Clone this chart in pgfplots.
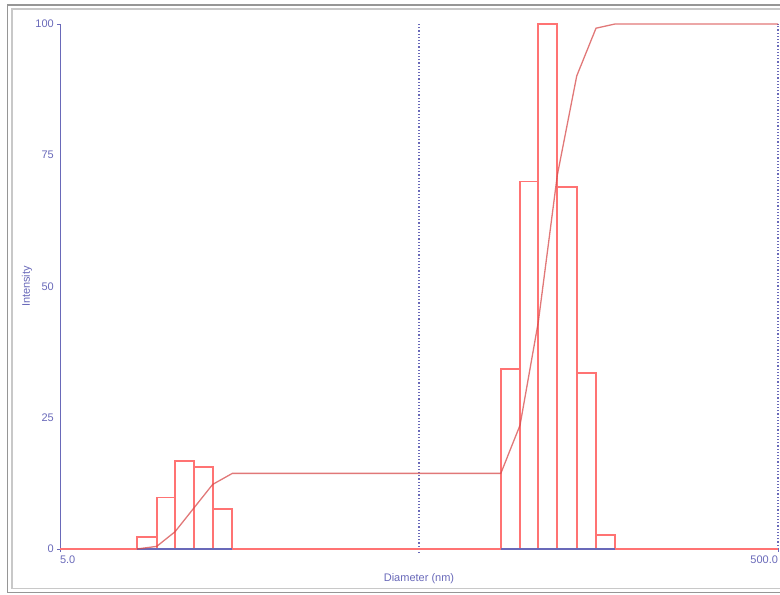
\documentclass[border=0pt]{standalone}
\usepackage{fontspec}
\setmainfont{Liberation Sans}
\usepackage{pgfplots}
\pgfplotsset{compat=1.18}
\definecolor{axisblue}{RGB}{105,105,185}
\definecolor{barred}{RGB}{255,115,115}
\definecolor{curvered}{RGB}{215,75,75}
\definecolor{framegray}{RGB}{150,150,150}
\definecolor{framelight}{RGB}{200,200,200}

% histogram outlines: each bin traced as (left,0)(left,h)(right,h)(right,0)
\pgfplotstableread{
x y
8.18 0
8.18 2.3
9.30 2.3
9.30 0
9.30 9.8
10.46 9.8
10.46 0
10.46 16.8
11.83 16.8
11.83 0
11.83 15.7
13.31 15.7
13.31 0
13.31 7.6
15.10 7.6
15.10 0
}\leftbars
\pgfplotstableread{
x y
84.5 0
84.5 34.3
95.6 34.3
95.6 0
95.6 70.0
107.5 70.0
107.5 0
107.5 100
121.4 100
121.4 0
121.4 68.9
137.5 68.9
137.5 0
137.5 33.5
155.6 33.5
155.6 0
155.6 2.7
175.8 2.7
175.8 0
}\rightbars
\pgfplotstableread{
x y
8.18 0
9.30 0.5
10.46 3.3
11.83 7.9
13.31 12.3
15.10 14.4
84.5 14.4
95.6 23.6
107.5 43.3
121.4 71.2
137.5 90.1
155.6 99.2
175.8 100
500 100
}\cumul

\begin{document}
\begin{tikzpicture}
\useasboundingbox (0pt,0pt) rectangle (780pt,595pt);
\begin{scope}
\clip (0pt,0pt) rectangle (780pt,595pt);
\draw[framegray, line width=1.3pt] (7.5pt,2.5pt) rectangle (800pt,590pt);
\draw[framelight, line width=1.3pt] (12pt,6.5pt) rectangle (800pt,586pt);
\end{scope}
\begin{axis}[
  at={(60pt,46pt)}, anchor=south west,
  scale only axis, width=718pt, height=525pt,
  xmode=log, xmin=5, xmax=500, ymin=0, ymax=100,
  clip=false,
  axis x line*=bottom, axis y line*=left,
  x axis line style={draw=none},
  y axis line style={axisblue, line width=1pt},
  tick style={axisblue, line width=0.8pt},
  tick align=outside, major tick length=3pt,
  minor tick num=0,
  xtick={5,500}, xticklabels={\makebox[0pt][l]{5.0},\makebox[0pt][r]{500.0}},
  ytick={0,100},
  extra y ticks={25,50,75},
  extra y tick style={major tick length=0pt, yticklabel style={xshift=-3pt}},
  tick label style={font=\fontsize{11}{13}\selectfont, text=axisblue, inner sep=0pt},
  xticklabel style={yshift=-4pt},
  yticklabel style={xshift=-3pt},
  /pgf/number format/assume math mode=true,
  every axis x label/.style={at={(axis description cs:0.5,-0.0571)}, anchor=center},
  every axis y label/.style={at={(axis description cs:-0.046,0.5)}, rotate=90, anchor=center},
  label style={font=\fontsize{11}{13}\selectfont, text=axisblue},
  xlabel={Diameter (nm)}, ylabel={Intensity},
]
\addplot[axisblue, line width=1.1pt, dash pattern=on 1.2pt off 2pt] coordinates {(50,-0.8) (50,100)};
\addplot[axisblue, line width=1.1pt, dash pattern=on 1.2pt off 2pt] coordinates {(500,0) (500,100)};
\addplot[barred, line width=1.9pt] coordinates {(5,0) (500,0)};
\addplot[barred, line width=1.9pt, line join=miter] table[x=x,y=y] {\leftbars};
\addplot[barred, line width=1.9pt, line join=miter] table[x=x,y=y] {\rightbars};
\addplot[axisblue, line width=1.5pt] coordinates {(8.18,0) (15.10,0)};
\addplot[axisblue, line width=1.5pt] coordinates {(84.5,0) (175.8,0)};
\addplot[curvered, opacity=0.75, line width=1.3pt] table[x=x,y=y] {\cumul};
\end{axis}
\end{tikzpicture}
\end{document}
